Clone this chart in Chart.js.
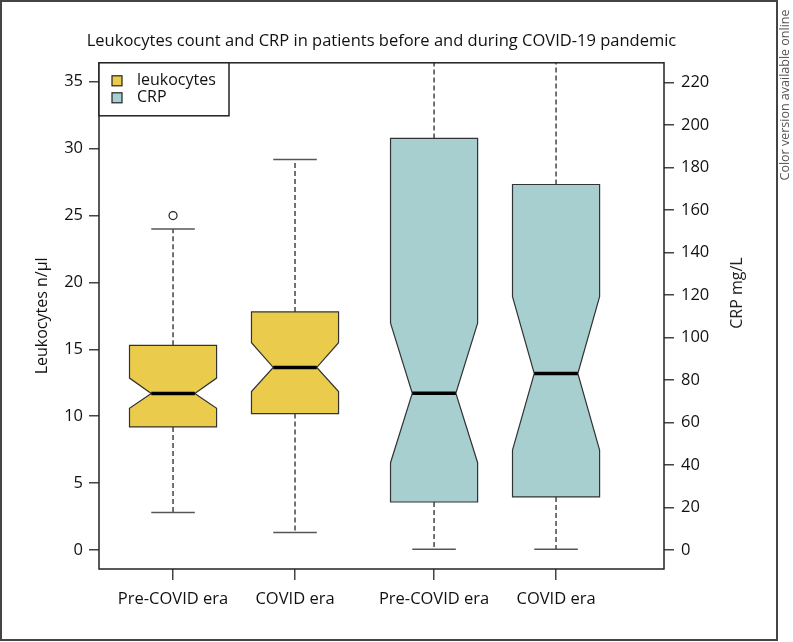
<!DOCTYPE html>
<html lang="en">
<head>
    <meta charset="UTF-8">
    <title>Leukocytes count and CRP</title>
    <script src="https://cdn.jsdelivr.net/npm/chart.js@4.4.1/dist/chart.umd.min.js"></script>
    <style>
        body { margin: 0; background: #fff; }
        #wrap { width: 793px; height: 642px; }
    </style>
</head>
<body>
    <div id="wrap"><canvas id="grafico"></canvas></div>

    <script>
        // categories and positions on the x axis
        const eras = ['Pre-COVID era', 'COVID era'];
        const xLabels = ['Pre-COVID era', 'COVID era', 'Pre-COVID era', 'COVID era'];
        const xPositions = [1, 2, 3.14, 4.14];

        // leukocytes (left axis, n/µl)
        const leukWhiskerLow = [2.8, 1.3];
        const leukQ1 = [9.2, 10.2];
        const leukNotchLow = [10.6, 11.85];
        const leukMedian = [11.7, 13.65];
        const leukNotchHigh = [12.85, 15.5];
        const leukQ3 = [15.3, 17.8];
        const leukWhiskerHigh = [24.0, 29.2];
        const leukOutliers = [[25.0], []];

        // CRP (right axis, mg/L) - upper whiskers run past the top of the plot
        const crpWhiskerLow = [0.3, 0.3];
        const crpQ1 = [22.6, 25.0];
        const crpNotchLow = [41.1, 47.1];
        const crpMedian = [73.8, 83.1];
        const crpNotchHigh = [106.8, 119.3];
        const crpQ3 = [193.8, 172.1];
        const crpWhiskerHigh = [400, 380];

        // tick labels
        const leukTicks = [0, 5, 10, 15, 20, 25, 30, 35];
        const crpTicks = [0, 20, 40, 60, 80, 100, 120, 140, 160, 180, 200, 220];

        const yellow = '#ebcb4b';
        const teal = '#a7cfcf';
        const halfW = 0.357; // half box width in x units
        const font = 'Open Sans';

        const boxes = [];
        eras.forEach((e, i) => boxes.push({
            x: xPositions[i], axis: 'y', fill: yellow,
            lo: leukWhiskerLow[i], q1: leukQ1[i], nl: leukNotchLow[i], med: leukMedian[i],
            nh: leukNotchHigh[i], q3: leukQ3[i], hi: leukWhiskerHigh[i]
        }));
        eras.forEach((e, i) => boxes.push({
            x: xPositions[i + 2], axis: 'y2', fill: teal,
            lo: crpWhiskerLow[i], q1: crpQ1[i], nl: crpNotchLow[i], med: crpMedian[i],
            nh: crpNotchHigh[i], q3: crpQ3[i], hi: crpWhiskerHigh[i]
        }));

        const outlierPoints = [];
        leukOutliers.forEach((arr, i) => arr.forEach(v => outlierPoints.push({ x: xPositions[i], y: v })));

        // draws the notched boxes with the chart scales
        const boxPlugin = {
            id: 'notchedBoxes',
            beforeDatasetsDraw(chart) {
                const { ctx, chartArea, scales } = chart;
                const xs = scales.x;
                ctx.save();
                ctx.beginPath();
                ctx.rect(chartArea.left, chartArea.top, chartArea.right - chartArea.left, chartArea.bottom - chartArea.top);
                ctx.clip();
                boxes.forEach(b => {
                    const ys = scales[b.axis];
                    const xc = xs.getPixelForValue(b.x);
                    const xl = xs.getPixelForValue(b.x - halfW);
                    const xr = xs.getPixelForValue(b.x + halfW);
                    const hw = (xr - xl) / 4;
                    const py = v => ys.getPixelForValue(v);

                    // whiskers
                    ctx.strokeStyle = '#444';
                    ctx.lineWidth = 1.5;
                    ctx.setLineDash([5, 3]);
                    ctx.beginPath();
                    ctx.moveTo(xc, py(b.q3)); ctx.lineTo(xc, py(b.hi));
                    ctx.moveTo(xc, py(b.q1)); ctx.lineTo(xc, py(b.lo));
                    ctx.stroke();
                    ctx.setLineDash([]);
                    ctx.strokeStyle = '#555';
                    ctx.beginPath();
                    ctx.moveTo(xc - hw, py(b.hi)); ctx.lineTo(xc + hw, py(b.hi));
                    ctx.moveTo(xc - hw, py(b.lo)); ctx.lineTo(xc + hw, py(b.lo));
                    ctx.stroke();

                    // notched box
                    ctx.beginPath();
                    ctx.moveTo(xl, py(b.q3));
                    ctx.lineTo(xr, py(b.q3));
                    ctx.lineTo(xr, py(b.nh));
                    ctx.lineTo(xr - hw, py(b.med));
                    ctx.lineTo(xr, py(b.nl));
                    ctx.lineTo(xr, py(b.q1));
                    ctx.lineTo(xl, py(b.q1));
                    ctx.lineTo(xl, py(b.nl));
                    ctx.lineTo(xl + hw, py(b.med));
                    ctx.lineTo(xl, py(b.nh));
                    ctx.closePath();
                    ctx.fillStyle = b.fill;
                    ctx.fill();
                    ctx.strokeStyle = '#333';
                    ctx.lineWidth = 1.2;
                    ctx.stroke();

                    // median
                    ctx.strokeStyle = '#000';
                    ctx.lineWidth = 3.5;
                    ctx.beginPath();
                    ctx.moveTo(xl + hw, py(b.med)); ctx.lineTo(xr - hw, py(b.med));
                    ctx.stroke();
                });
                ctx.restore();
            },
            afterDraw(chart) {
                const { ctx, chartArea } = chart;
                ctx.save();
                // plot frame
                ctx.strokeStyle = '#222';
                ctx.lineWidth = 1.5;
                ctx.strokeRect(chartArea.left, chartArea.top, chartArea.right - chartArea.left, chartArea.bottom - chartArea.top);

                // legend
                const lx = chartArea.left, ly = chartArea.top;
                ctx.fillStyle = '#fff';
                ctx.fillRect(lx, ly, 130, 53);
                ctx.strokeRect(lx, ly, 130, 53);
                [['leukocytes', yellow], ['CRP', teal]].forEach(([txt, col], i) => {
                    const cy = ly + 18 + i * 17;
                    ctx.fillStyle = col;
                    ctx.fillRect(lx + 13, cy - 5, 10, 10);
                    ctx.strokeStyle = '#222';
                    ctx.lineWidth = 1.2;
                    ctx.strokeRect(lx + 13, cy - 5, 10, 10);
                    ctx.fillStyle = '#111';
                    ctx.font = '16px "' + font + '"';
                    ctx.textBaseline = 'middle';
                    ctx.textAlign = 'left';
                    ctx.fillText(txt, lx + 38, cy);
                });

                // right axis title, reading upward
                ctx.font = '16px "' + font + '"';
                ctx.fillStyle = '#222';
                ctx.textAlign = 'center';
                ctx.textBaseline = 'middle';
                ctx.translate(737, 293);
                ctx.rotate(-Math.PI / 2);
                ctx.fillText('CRP mg/L', 0, 0);
                ctx.restore();

                ctx.save();
                ctx.font = '12.5px "' + font + '"';
                ctx.fillStyle = '#555';
                ctx.textAlign = 'center';
                ctx.textBaseline = 'middle';
                ctx.translate(785, 95);
                ctx.rotate(-Math.PI / 2);
                ctx.fillText('Color version available online', 0, 0);
                ctx.restore();

                // outer frame
                ctx.save();
                ctx.strokeStyle = '#444';
                ctx.lineWidth = 2;
                ctx.strokeRect(1, 1, 776, 639);
                ctx.restore();
            }
        };

        const tickFont = { family: font, size: 16.5 };
        const gridOpts = { drawOnChartArea: false, drawTicks: true, tickLength: 10, color: '#444', lineWidth: 1.5 };

        const ctx = document.getElementById('grafico').getContext('2d');
        const grafico = new Chart(ctx, {
            type: 'scatter',
            data: {
                datasets: [{
                    label: 'outliers',
                    data: outlierPoints,
                    yAxisID: 'y',
                    pointRadius: 4,
                    pointStyle: 'circle',
                    borderColor: '#222',
                    backgroundColor: '#fff',
                    borderWidth: 1.2
                }]
            },
            options: {
                responsive: true,
                maintainAspectRatio: false,
                animation: false,
                layout: { padding: { left: 0, right: 30, top: 0, bottom: 0 } },
                plugins: {
                    legend: { display: false },
                    tooltip: { enabled: false },
                    title: {
                        display: true,
                        text: 'Leukocytes count and CRP in patients before and during COVID-19 pandemic',
                        color: '#111',
                        font: { family: font, size: 16.5, weight: 'normal' },
                        padding: { top: 31, bottom: 12 }
                    }
                },
                scales: {
                    x: {
                        type: 'linear',
                        position: 'bottom',
                        min: 0.393,
                        max: 5.025,
                        afterBuildTicks: s => { s.ticks = xPositions.map(v => ({ value: v })); },
                        afterFit: s => { s.height = 73; },
                        ticks: {
                            color: '#111',
                            font: tickFont,
                            padding: 9,
                            maxRotation: 0,
                            autoSkip: false,
                            callback: (v, i) => xLabels[i]
                        },
                        grid: Object.assign({}, gridOpts, { tickLength: 11 }),
                        border: { display: false }
                    },
                    y: {
                        position: 'left',
                        min: -1.42,
                        max: 36.42,
                        afterBuildTicks: s => { s.ticks = leukTicks.map(v => ({ value: v })); },
                        afterFit: s => { s.width = 99; },
                        ticks: { color: '#111', font: tickFont, padding: 6 },
                        grid: gridOpts,
                        border: { display: false },
                        title: {
                            display: true,
                            text: 'Leukocytes n/µl',
                            color: '#111',
                            font: { family: font, size: 16 },
                            padding: { top: 33, bottom: 0 }
                        }
                    },
                    y2: {
                        position: 'right',
                        min: -8.95,
                        max: 229.4,
                        afterBuildTicks: s => { s.ticks = crpTicks.map(v => ({ value: v })); },
                        afterFit: s => { s.width = 99; },
                        ticks: { color: '#111', font: tickFont, padding: 7 },
                        grid: gridOpts,
                        border: { display: false }
                    }
                }
            },
            plugins: [boxPlugin]
        });
    </script>
</body>
</html>
